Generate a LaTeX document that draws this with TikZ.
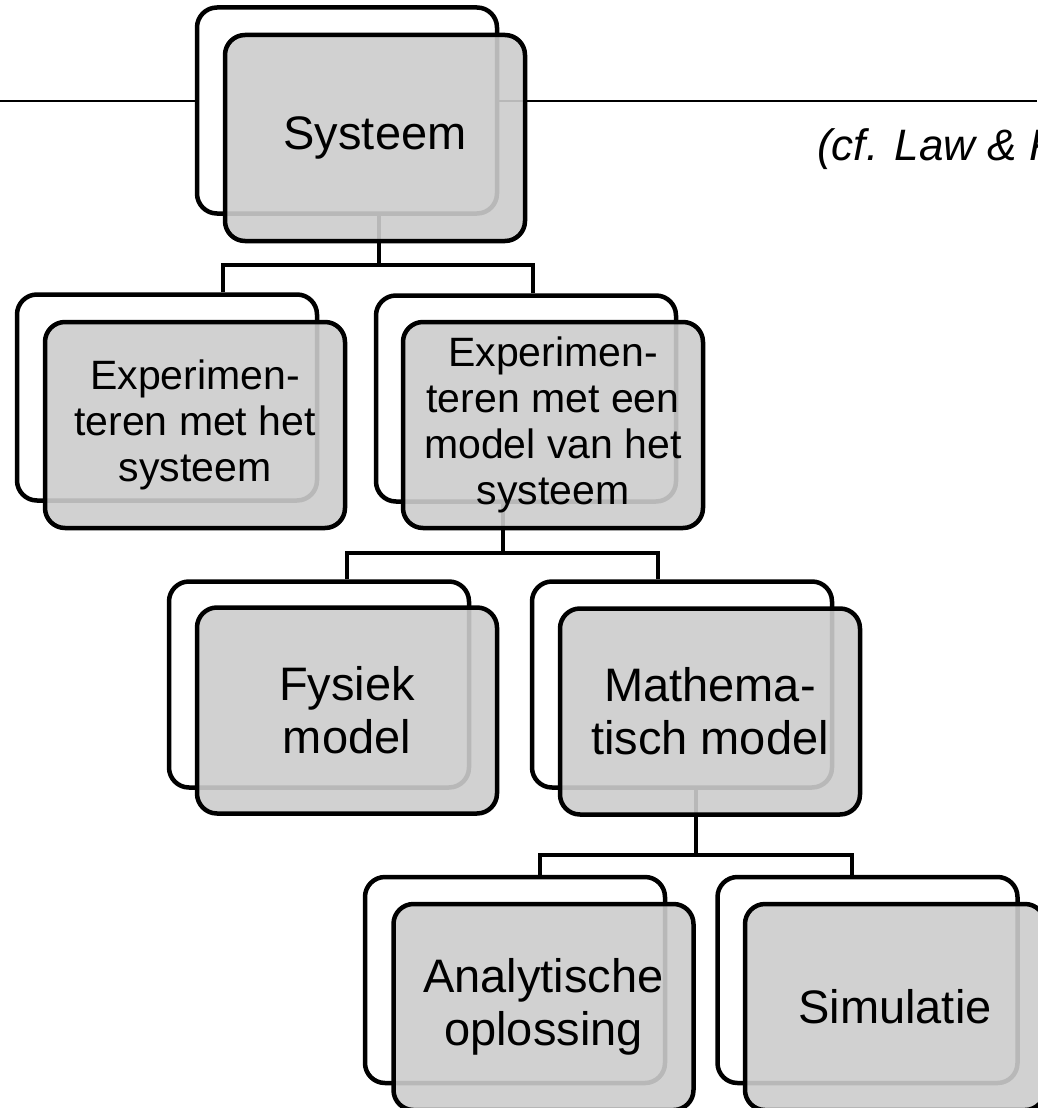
\documentclass[tikz,border=0pt]{standalone}
\usepackage{fontspec}
\setmainfont{Liberation Sans}
\usetikzlibrary{calc}

\begin{document}
\begin{tikzpicture}[x=1pt, y=-1pt,
  back/.style={draw, line width=4.5pt, rounded corners=20pt, fill=white,
    minimum width=300pt, minimum height=206pt, inner sep=0pt},
  front/.style={back, fill=black!20, fill opacity=0.9, text opacity=1, align=center},
  link/.style={line width=4.5pt},
  big/.style={font=\fontsize{47}{53}\selectfont},
  small/.style={font=\fontsize{41}{46}\selectfont}]
  \useasboundingbox (0,0) rectangle (1037,1108);

  % 顶部横线
  \coordinate (L) at (0,101);
  \coordinate (R) at (1037,101);
  \draw[line width=2pt] (L) -- (R);

  % 后面的白框
  \node[back] (sysB) at (347,110.5) {};
  \node[back] (expB) at (167,397.5) {};
  \node[back] (modB) at (526,398.5) {};
  \node[back] (fysB) at (319,684.5) {};
  \node[back] (matB) at (682,684.5) {};
  \node[back] (anaB) at (515,980) {};
  \node[back] (simB) at (867.5,980) {};

  % 连接线
  \coordinate (j1) at (379,265);
  \coordinate (a1) at (223,265);
  \coordinate (a2) at (533,265);
  \draw[link] (sysB.south -| j1) -- (j1);
  \draw[link] (expB.north -| a1) |- (a2) -- (modB.north -| a2);

  \coordinate (j2) at (503,553);
  \coordinate (b1) at (347,553);
  \coordinate (b2) at (658,553);
  \draw[link] (modB.south -| j2) -- (j2);
  \draw[link] (fysB.north -| b1) |- (b2) -- (matB.north -| b2);

  \coordinate (j3) at (696,855);
  \coordinate (c1) at (540,855);
  \coordinate (c2) at (852,855);
  \draw[link] (matB.south -| j3) -- (j3);
  \draw[link] (anaB.north -| c1) |- (c2) -- (simB.north -| c2);

  % 前面的灰框
  \node[front, big] (sysF) at (375,138) {Systeem};
  \node[front, small] (expF) at (195,425) {Experimen-\\teren met het\\systeem};
  \node[front, small] (modF) at (553,425) {Experimen-\\teren met een\\model van het\\systeem};
  \node[front, big] (fysF) at (347,710.5) {Fysiek\\model};
  \node[front, big] (matF) at (710,711.5) {Mathema-\\tisch model};
  \node[front, big] (anaF) at (543.5,1007) {Analytische\\oplossing};
  \node[front, big] (simF) at (895,1007) {Simulatie};

  % 引用
  \node[anchor=base west, inner sep=0pt, font=\fontsize{44}{50}\selectfont\itshape] (cite) at (817,160) {(cf. Law \& Kelton)};
\end{tikzpicture}
\end{document}
